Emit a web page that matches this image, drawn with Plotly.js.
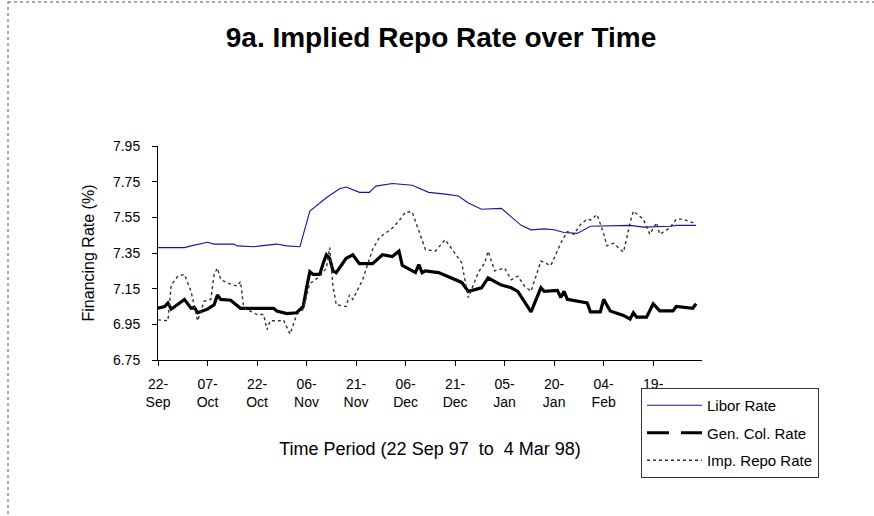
<!DOCTYPE html>
<html>
<head>
<meta charset="utf-8">
<script src="https://cdn.plot.ly/plotly-3.0.1.min.js"></script>
<style>
html,body{margin:0;padding:0;background:#fff;}
#chart{width:874px;height:516px;}
</style>
</head>
<body>
<div id="chart"></div>
<script>
// ---- data ----
var liborDates = ['1997-09-22','1997-09-30','1997-10-02','1997-10-07','1997-10-09','1997-10-15','1997-10-16','1997-10-21','1997-10-23','1997-10-28','1997-10-31','1997-11-04','1997-11-07','1997-11-12','1997-11-16','1997-11-18','1997-11-22','1997-11-25','1997-11-27','1997-12-02','1997-12-08','1997-12-13','1997-12-18','1997-12-22','1997-12-25','1997-12-29','1998-01-04','1998-01-10','1998-01-13','1998-01-17','1998-01-20','1998-01-23','1998-01-27','1998-01-31','1998-02-12','1998-02-16','1998-02-24','1998-02-26','1998-03-04'];
var liborRate = [7.38,7.38,7.39,7.41,7.40,7.40,7.39,7.385,7.39,7.40,7.39,7.385,7.585,7.66,7.71,7.72,7.69,7.69,7.725,7.74,7.73,7.69,7.68,7.67,7.63,7.595,7.60,7.505,7.48,7.485,7.48,7.465,7.46,7.50,7.505,7.495,7.50,7.505,7.505];

var genColDates = ['1997-09-22','1997-09-24','1997-09-25','1997-09-26','1997-09-30','1997-10-02','1997-10-03','1997-10-04','1997-10-07','1997-10-08','1997-10-09','1997-10-10','1997-10-11','1997-10-14','1997-10-17','1997-10-22','1997-10-27','1997-10-28','1997-10-31','1997-11-03','1997-11-05','1997-11-06','1997-11-07','1997-11-08','1997-11-10','1997-11-11','1997-11-12','1997-11-13','1997-11-14','1997-11-15','1997-11-18','1997-11-20','1997-11-22','1997-11-26','1997-11-29','1997-12-02','1997-12-04','1997-12-05','1997-12-09','1997-12-10','1997-12-11','1997-12-12','1997-12-16','1997-12-23','1997-12-25','1997-12-29','1997-12-31','1998-01-04','1998-01-07','1998-01-09','1998-01-13','1998-01-16','1998-01-17','1998-01-21','1998-01-22','1998-01-23','1998-01-24','1998-01-30','1998-01-31','1998-02-03','1998-02-04','1998-02-06','1998-02-10','1998-02-12','1998-02-13','1998-02-14','1998-02-17','1998-02-19','1998-02-21','1998-02-25','1998-02-26','1998-03-03','1998-03-04'];
var genColRate = [7.04,7.05,7.07,7.035,7.09,7.04,7.045,7.015,7.035,7.05,7.06,7.115,7.09,7.085,7.04,7.04,7.04,7.025,7.01,7.015,7.05,7.155,7.245,7.23,7.23,7.29,7.34,7.32,7.25,7.24,7.32,7.34,7.29,7.29,7.34,7.33,7.36,7.28,7.24,7.285,7.24,7.25,7.24,7.185,7.135,7.155,7.21,7.17,7.155,7.135,7.02,7.155,7.135,7.14,7.10,7.135,7.09,7.07,7.02,7.02,7.09,7.025,7.00,6.98,7.015,6.99,6.99,7.065,7.025,7.025,7.05,7.04,7.065];

var impRepoDates = ['1997-09-22','1997-09-25','1997-09-26','1997-09-28','1997-09-30','1997-10-02','1997-10-04','1997-10-06','1997-10-08','1997-10-09','1997-10-10','1997-10-11','1997-10-14','1997-10-16','1997-10-17','1997-10-18','1997-10-21','1997-10-22','1997-10-24','1997-10-25','1997-10-26','1997-10-29','1997-10-30','1997-10-31','1997-11-01','1997-11-03','1997-11-05','1997-11-07','1997-11-08','1997-11-10','1997-11-12','1997-11-13','1997-11-14','1997-11-15','1997-11-18','1997-11-19','1997-11-20','1997-11-23','1997-11-26','1997-11-28','1997-12-02','1997-12-04','1997-12-06','1997-12-08','1997-12-10','1997-12-12','1997-12-15','1997-12-18','1997-12-23','1997-12-24','1997-12-25','1997-12-28','1997-12-30','1997-12-31','1998-01-02','1998-01-05','1998-01-07','1998-01-09','1998-01-11','1998-01-13','1998-01-15','1998-01-16','1998-01-19','1998-01-21','1998-01-22','1998-01-24','1998-01-26','1998-01-28','1998-01-30','1998-01-31','1998-02-02','1998-02-04','1998-02-05','1998-02-07','1998-02-10','1998-02-11','1998-02-12','1998-02-13','1998-02-16','1998-02-18','1998-02-20','1998-02-21','1998-02-24','1998-02-26','1998-02-28','1998-03-03','1998-03-04'];
var impRepoRate = [6.975,6.97,7.17,7.22,7.23,7.135,6.97,7.08,7.09,7.23,7.265,7.20,7.175,7.165,7.19,7.04,7.015,7.005,7.005,6.92,6.97,6.97,6.975,6.93,6.895,7.005,7.035,7.18,7.19,7.22,7.265,7.38,7.165,7.06,7.05,7.115,7.09,7.20,7.37,7.435,7.49,7.53,7.58,7.58,7.48,7.37,7.36,7.425,7.295,7.20,7.10,7.24,7.295,7.36,7.25,7.265,7.20,7.22,7.165,7.135,7.24,7.305,7.28,7.37,7.405,7.47,7.455,7.51,7.54,7.535,7.565,7.46,7.39,7.405,7.355,7.435,7.52,7.585,7.54,7.455,7.52,7.455,7.49,7.54,7.54,7.52,7.51];

var tickDates = ['1997-09-22','1997-10-07','1997-10-22','1997-11-06','1997-11-21','1997-12-06','1997-12-21','1998-01-05','1998-01-20','1998-02-04','1998-02-19'];
var tickLabels = ['22-<br>Sep','07-<br>Oct','22-<br>Oct','06-<br>Nov','21-<br>Nov','06-<br>Dec','21-<br>Dec','05-<br>Jan','20-<br>Jan','04-<br>Feb','19-<br>Feb'];
var seriesNames = ['Libor Rate','Gen. Col. Rate','Imp. Repo Rate'];

var FONT = 'Liberation Sans, Arial, sans-serif';

var traces = [
  {x: liborDates, y: liborRate, type: 'scatter', mode: 'lines', name: seriesNames[0], legendgroup: 'a',
   line: {color: '#1616a0', width: 1.1}},
  {x: genColDates, y: genColRate, type: 'scatter', mode: 'lines', name: seriesNames[1], legendgroup: 'b',
   showlegend: false, line: {color: '#000', width: 3.2}},
  {x: [null], y: [null], type: 'scatter', mode: 'lines', name: seriesNames[1], legendgroup: 'b',
   line: {color: '#000', width: 3, dash: '22px,12px'}},
  {x: impRepoDates, y: impRepoRate, type: 'scatter', mode: 'lines', name: seriesNames[2], legendgroup: 'c',
   line: {color: '#333', width: 1.4, dash: 'dot'}}
];

var L = 158, R = 702, T = 146, B = 360;
var W = R - L, H = B - T;
function px2x(p){ return (p - L) / W; }
function px2y(p){ return 1 - (p - T) / H; }

var layout = {
  width: 874, height: 516,
  margin: {l: L, r: 874 - R, t: T, b: 516 - B, pad: 0},
  paper_bgcolor: '#fff', plot_bgcolor: '#fff',
  font: {family: FONT, color: '#000', size: 14},
  showlegend: true,
  title: {text: '<b>9a. Implied Repo Rate over Time</b>', font: {family: FONT, size: 28, color: '#000'},
          xref: 'container', yref: 'container', x: 441/874, y: 1 - 37/516, xanchor: 'center', yanchor: 'middle'},
  xaxis: {
    type: 'date', range: ['1997-09-22', '1998-03-05 19:00'],
    tickmode: 'array', tickvals: tickDates, ticktext: tickLabels,
    ticks: 'outside', ticklen: 5, tickcolor: '#000', tickwidth: 1,
    showline: true, linecolor: '#000', linewidth: 1, mirror: false,
    showgrid: false, zeroline: false,
    tickfont: {family: FONT, size: 14, color: '#000'},
    ticklabelstandoff: 6,
    title: {text: 'Time Period (22 Sep 97&nbsp;&nbsp;to&nbsp;&nbsp;4 Mar 98)', font: {family: FONT, size: 18, color: '#000'}, standoff: 33},
    automargin: false
  },
  yaxis: {
    range: [6.75, 7.95], tickmode: 'linear', tick0: 6.75, dtick: 0.2, tickformat: '.2f',
    ticks: 'outside', ticklen: 5, tickcolor: '#000', tickwidth: 1,
    showline: true, linecolor: '#000', linewidth: 1,
    showgrid: false, zeroline: false,
    tickfont: {family: FONT, size: 14, color: '#000'},
    ticklabelstandoff: 9,
    title: {text: 'Financing Rate (%)', font: {family: FONT, size: 16, color: '#000'}, standoff: 14},
    automargin: false
  },
  legend: {
    x: px2x(641), y: px2y(388), xanchor: 'left', yanchor: 'top',
    bgcolor: '#fff', bordercolor: '#333', borderwidth: 1,
    font: {family: FONT, size: 15, color: '#000'},
    traceorder: 'grouped', tracegroupgap: 5, itemwidth: 55
  },
  shapes: [
    {type: 'rect', xref: 'paper', yref: 'paper', layer: 'below',
     x0: px2x(8), x1: px2x(890), y0: px2y(2), y1: px2y(540),
     line: {color: '#555', width: 1, dash: 'dot'}, fillcolor: 'rgba(0,0,0,0)'}
  ]
};

Plotly.newPlot('chart', traces, layout, {displayModeBar: false, staticPlot: true});
</script>
</body>
</html>
